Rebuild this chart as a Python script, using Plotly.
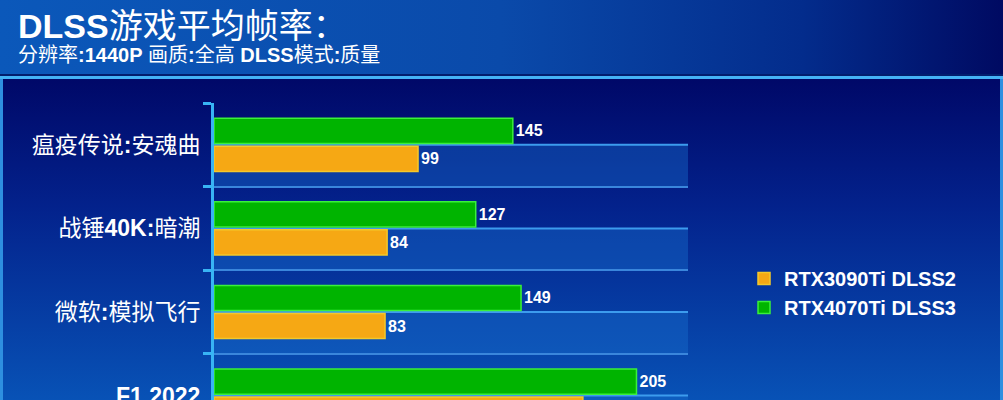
import base64
import plotly.graph_objects as go

# ---------------- data ----------------
categories = ["瘟疫传说:安魂曲", "战锤40K:暗潮", "微软:模拟飞行", "F1 2022"]
tick_labels = ["瘟疫传说<b>:</b>安魂曲", "战锤<b>40K:</b>暗潮", "微软<b>:</b>模拟飞行", "<b>F1 2022</b>"]
rtx4070ti_dlss3 = [145, 127, 149, 205]
rtx3090ti_dlss2 = [99, 84, 83, 179]
series_names = ["RTX3090Ti DLSS2", "RTX4070Ti DLSS3"]
title_text = "<b>DLSS</b>游戏平均帧率："
subtitle_text = "分辨率<b>:1440P</b> 画质<b>:</b>全高 <b>DLSS</b>模式<b>:</b>质量"

# ---------------- geometry ----------------
W, H = 1003, 400
ML, MR, MT, MB = 214, 315, 103, 0
PW, PH = W - ML - MR, H - MT - MB
CAT_PX = 83.6  # pixel height of one category band
y_bottom = -0.5 + PH / CAT_PX

FONT = "Liberation Sans, Arial, Noto Sans CJK SC, sans-serif"

# ---------------- background (svg) ----------------
svg = f"""<svg xmlns='http://www.w3.org/2000/svg' width='{W}' height='{H}' viewBox='0 0 {W} {H}' preserveAspectRatio='none'>
<defs>
<linearGradient id='hd' x1='0' y1='0' x2='1' y2='0'>
<stop offset='0' stop-color='#0b58ba'/>
<stop offset='0.5' stop-color='#0a4aaa'/>
<stop offset='0.8' stop-color='#032c8c'/>
<stop offset='1' stop-color='#000a62'/>
</linearGradient>
<linearGradient id='bd' x1='0' y1='0' x2='0' y2='1'>
<stop offset='0' stop-color='#000868'/>
<stop offset='0.4' stop-color='#03228c'/>
<stop offset='1' stop-color='#0852b6'/>
</linearGradient>
</defs>
<rect x='0' y='0' width='{W}' height='{H}' fill='#000868'/>
<rect x='0' y='79' width='{W}' height='{H - 79}' fill='url(#bd)'/>
<rect x='0' y='0' width='{W}' height='76' fill='url(#hd)'/>
<rect x='0' y='74' width='{W}' height='2' fill='#021e6e'/>
<rect x='0' y='76' width='{W}' height='3' fill='#44b2f6'/>
<rect x='0' y='79' width='3' height='{H}' fill='#2e8fe0'/>
<rect x='{W - 3}' y='79' width='3' height='{H}' fill='#2e8fe0'/>
</svg>"""
svg_uri = "data:image/svg+xml;base64," + base64.b64encode(svg.encode("utf-8")).decode("ascii")

fig = go.Figure()

# green first so that it sits on top within each group (reversed y axis)
fig.add_trace(go.Bar(
    y=categories, x=rtx4070ti_dlss3, orientation="h", name=f"<b>{series_names[1]}</b>",
    marker=dict(color="#00b400", line=dict(color="#3af03a", width=1.5)),
    texttemplate="<b>%{x}</b>", textposition="outside", cliponaxis=False,
    textfont=dict(color="white", size=16, family=FONT),
    legendrank=2,
))
fig.add_trace(go.Bar(
    y=categories, x=rtx3090ti_dlss2, orientation="h", name=f"<b>{series_names[0]}</b>",
    marker=dict(color="#f6a814", line=dict(color="#f4c82a", width=1.5)),
    texttemplate="<b>%{x}</b>", textposition="outside", cliponaxis=False,
    textfont=dict(color="white", size=16, family=FONT),
    legendrank=1,
))

shapes = []
for i, _ in enumerate(categories):
    # lighter band in lower half of every category
    shapes.append(dict(type="rect", xref="x domain", yref="y", x0=0, x1=1,
                       y0=i, y1=i + 0.5, fillcolor="rgba(24,110,205,0.42)",
                       line=dict(width=0), layer="below"))
    shapes.append(dict(type="line", xref="x domain", yref="y", x0=0, x1=1,
                       y0=i, y1=i, line=dict(color="#3c9cee", width=2), layer="below"))

fig.update_layout(
    width=W, height=H,
    margin=dict(l=ML, r=MR, t=MT, b=MB, pad=0, autoexpand=False),
    paper_bgcolor="#00106e", plot_bgcolor="rgba(0,0,0,0)",
    barmode="group", bargap=0.33, bargroupgap=0.1,
    font=dict(family=FONT, color="white"),
    showlegend=True,
    legend=dict(x=(744 - ML) / PW, y=1 - (259 - MT) / PH, xanchor="left", yanchor="top",
                bgcolor="rgba(0,0,0,0)", font=dict(size=20, color="white", family=FONT),
                itemclick=False, tracegroupgap=0),
    xaxis=dict(range=[0, 230], showgrid=False, showticklabels=False, zeroline=False,
               showline=False, ticks="", automargin=False),
    yaxis=dict(categoryorder="array", categoryarray=categories,
               tickvals=categories, ticktext=tick_labels,
               range=[y_bottom, -0.5], tickson="boundaries",
               ticks="outside", ticklen=8, tickwidth=3, tickcolor="#38b4f4",
               showline=True, linecolor="#38b4f4", linewidth=3,
               showgrid=True, gridcolor="#3a86dc", gridwidth=2,
               tickfont=dict(size=23, color="white", family=FONT),
               ticklabelstandoff=6, zeroline=False, automargin=False),
    shapes=shapes,
    images=[dict(source=svg_uri, xref="paper", yref="paper",
                 x=-ML / PW, y=1 + MT / PH, sizex=W / PW, sizey=H / PH,
                 xanchor="left", yanchor="top", sizing="stretch", layer="below")],
    annotations=[
        dict(text=title_text, xref="paper", yref="paper", x=-(ML - 16) / PW, y=1 + (MT - 26) / PH,
             xanchor="left", yanchor="middle", showarrow=False,
             font=dict(size=34, color="white", family=FONT)),
        dict(text=subtitle_text, xref="paper", yref="paper", x=-(ML - 16) / PW, y=1 + (MT - 55) / PH,
             xanchor="left", yanchor="middle", showarrow=False,
             font=dict(size=20, color="white", family=FONT)),
    ],
)

fig.write_html("out.html", config={"displayModeBar": False},
               post_script="document.body.style.margin='0';document.body.style.overflow='hidden';")
